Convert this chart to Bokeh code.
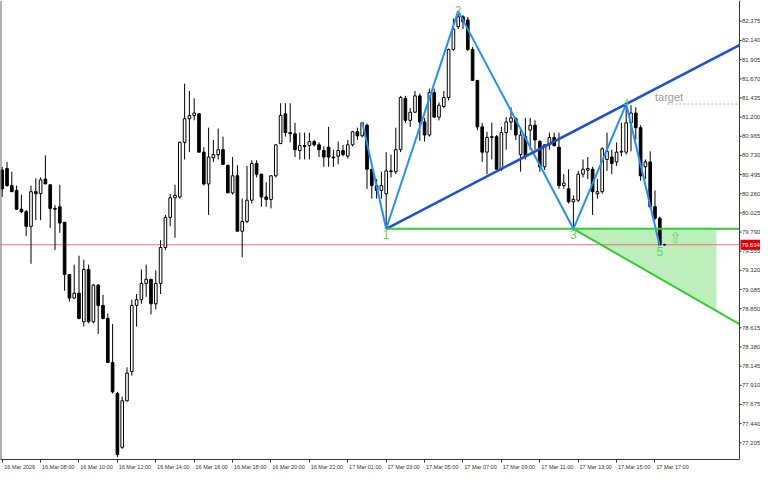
from bokeh.plotting import figure
from bokeh.models import Range1d, FixedTicker, Span
from bokeh.core.properties import value
from bokeh.embed import file_html
from bokeh.resources import INLINE

# ---------------- data (15-minute bars) ----------------
opens = [80.55, 80.57, 80.36, 80.30, 80.07, 80.04, 79.86, 80.285, 80.26, 80.44,
         80.37, 80.08, 80.10, 79.91, 79.27, 78.98, 79.04, 78.69, 79.33, 78.69,
         79.14, 78.89, 78.73, 78.19, 77.81, 77.15, 77.72, 78.08, 78.89, 78.96,
         79.16, 79.21, 78.91, 79.16, 79.60, 79.97, 80.21, 80.22, 80.89, 81.18,
         81.22, 81.24, 80.77, 80.38, 80.70, 80.74, 80.80, 80.61, 80.27, 80.48,
         79.80, 79.92, 80.18, 80.63, 80.50, 80.22, 80.19, 80.48, 80.875, 81.24,
         81.01, 80.995, 80.79, 80.85, 80.85, 80.90, 80.86, 80.79, 80.83, 80.71,
         80.72, 80.79, 80.72, 80.86, 81.02, 80.97, 81.10, 80.56, 80.36, 80.30,
         80.26, 80.54, 80.53, 80.80, 81.43, 81.16, 81.26, 81.46, 81.14, 80.98,
         81.50, 81.20, 81.33, 81.44, 82.03, 82.31, 82.43, 82.39, 82.03, 81.65,
         81.08, 80.77, 80.95, 80.96, 80.56, 81.01, 81.14, 81.18, 80.74, 80.96,
         81.04, 81.10, 80.90, 80.59, 80.86, 80.95, 80.83, 80.36, 80.32, 80.16,
         80.18, 80.50, 80.55, 80.56, 80.26, 80.285, 80.68, 80.71, 80.65, 80.77,
         80.77, 81.13, 81.25, 81.07, 80.59, 80.65, 80.10, 79.96, 79.634]
highs = [80.59, 80.65, 80.53, 80.36, 80.25, 80.06, 80.36, 80.45, 80.46, 80.73,
         80.37, 80.12, 80.37, 79.91, 79.27, 79.39, 79.50, 79.45, 79.39, 79.15,
         79.15, 79.02, 78.79, 78.66, 77.83, 77.77, 78.13, 78.96, 79.03, 79.33,
         79.39, 79.21, 79.32, 79.69, 80.00, 80.26, 80.37, 80.90, 81.61, 81.52,
         81.43, 81.25, 80.83, 81.07, 80.92, 81.06, 80.96, 80.61, 80.71, 80.61,
         80.20, 80.60, 80.67, 80.67, 80.50, 80.40, 80.49, 80.86, 81.37, 81.37,
         81.37, 81.13, 81.01, 81.01, 81.01, 80.92, 80.89, 80.84, 81.08, 80.80,
         80.90, 80.86, 80.92, 81.03, 81.07, 81.14, 81.12, 80.56, 80.44, 80.53,
         80.77, 80.74, 81.07, 81.46, 81.46, 81.31, 81.52, 81.49, 81.19, 81.55,
         81.55, 81.38, 81.52, 82.04, 82.41, 82.50, 82.45, 82.43, 82.06, 81.65,
         81.13, 81.02, 81.13, 80.98, 81.08, 81.20, 81.32, 81.20, 81.04, 81.19,
         81.19, 81.16, 80.92, 80.86, 81.01, 81.01, 81.01, 80.50, 80.56, 80.24,
         80.54, 80.68, 80.71, 80.59, 80.44, 80.83, 81.01, 80.80, 80.89, 81.13,
         81.36, 81.345, 81.32, 81.10, 80.68, 80.78, 80.30, 79.98, 79.645]
lows = [80.22, 80.345, 80.285, 80.06, 80.02, 79.74, 79.40, 79.935, 79.935, 80.38,
        79.84, 79.57, 79.78, 79.07, 78.935, 78.97, 78.72, 78.63, 78.67, 78.67,
        78.54, 78.72, 78.19, 77.81, 77.03, 77.13, 77.71, 78.03, 78.63, 78.91,
        78.995, 78.78, 78.84, 79.03, 79.57, 79.86, 79.72, 80.20, 80.68, 80.77,
        81.16, 80.77, 80.36, 80.00, 80.65, 80.68, 80.62, 80.27, 80.25, 79.80,
        79.48, 79.90, 80.14, 80.46, 80.10, 80.10, 80.08, 80.46, 80.875, 80.96,
        80.89, 80.71, 80.68, 80.68, 80.68, 80.84, 80.71, 80.59, 80.59, 80.59,
        80.62, 80.72, 80.69, 80.84, 80.92, 80.95, 80.32, 80.20, 80.20, 80.20,
        79.83, 80.46, 80.50, 80.77, 81.13, 81.08, 81.25, 80.91, 80.90, 80.96,
        81.19, 81.16, 81.31, 81.405, 82.01, 82.28, 82.28, 82.01, 81.65, 81.04,
        80.65, 80.50, 80.68, 80.56, 80.54, 80.80, 81.04, 80.92, 80.53, 80.68,
        80.80, 80.80, 80.53, 80.55, 80.80, 80.84, 80.32, 80.32, 80.14, 79.83,
        80.16, 80.46, 80.44, 80.00, 80.20, 80.26, 80.54, 80.50, 80.60, 80.72,
        80.74, 80.78, 80.92, 80.42, 80.44, 80.08, 79.935, 79.62, 79.625]
closes = [80.32, 80.36, 80.285, 80.07, 80.04, 79.86, 80.285, 80.26, 80.43, 80.38,
          80.08, 80.07, 79.90, 79.27, 78.98, 79.04, 78.73, 79.33, 78.69, 79.14,
          78.89, 78.73, 78.19, 77.83, 77.06, 77.72, 78.06, 78.89, 78.96, 79.16,
          79.21, 78.91, 79.16, 79.60, 79.97, 80.21, 80.24, 80.89, 81.18, 81.22,
          81.25, 80.77, 80.38, 80.71, 80.74, 80.80, 80.62, 80.27, 80.48, 79.80,
          79.92, 80.18, 80.63, 80.50, 80.22, 80.19, 80.48, 80.86, 81.22, 81.01,
          80.995, 80.80, 80.85, 80.84, 80.90, 80.86, 80.80, 80.71, 80.71, 80.70,
          80.79, 80.74, 80.86, 81.02, 80.97, 81.13, 80.56, 80.36, 80.30, 80.36,
          80.54, 80.53, 80.80, 81.44, 81.16, 81.26, 81.46, 81.14, 80.98, 81.50,
          81.20, 81.345, 81.44, 82.03, 82.28, 82.43, 82.37, 82.03, 81.65, 81.08,
          80.77, 80.95, 80.96, 80.56, 81.01, 81.14, 81.19, 80.98, 80.98, 80.72,
          81.10, 80.92, 80.59, 80.86, 80.95, 80.85, 80.36, 80.39, 80.16, 80.19,
          80.50, 80.56, 80.57, 80.285, 80.285, 80.81, 80.78, 80.63, 80.77, 80.78,
          81.13, 81.25, 81.07, 80.48, 80.65, 80.10, 79.96, 79.634, 79.634]

tick_bars = [0, 8, 16, 24, 32, 40, 48, 56, 64, 72, 80, 88, 96, 104, 112, 120, 128, 136]
tick_labels = ["16 Mar 2026", "16 Mar 08:00", "16 Mar 10:00", "16 Mar 12:00", "16 Mar 14:00",
               "16 Mar 16:00", "16 Mar 18:00", "16 Mar 20:00", "16 Mar 22:00", "17 Mar 01:00",
               "17 Mar 03:00", "17 Mar 05:00", "17 Mar 07:00", "17 Mar 09:00", "17 Mar 11:00",
               "17 Mar 13:00", "17 Mar 15:00", "17 Mar 17:00"]
y_ticks = [77.205, 77.440, 77.675, 77.910, 78.145, 78.380, 78.615, 78.850, 79.085, 79.320,
           79.555, 79.790, 80.025, 80.260, 80.495, 80.730, 80.965, 81.200, 81.435, 81.670,
           81.905, 82.140, 82.375]
y_tick_labels = ["77.205", "77.440", "77.675", "77.910", "78.145", "78.380", "78.615", "78.850",
                 "79.085", "79.320", "79.555", "79.790", "80.025", "80.260", "80.495", "80.730",
                 "80.965", "81.200", "81.435", "81.670", "81.905", "82.140", "82.375"]

current_price = 79.634
current_label = "79.634"
pivot_bars = [75, 80, 95, 119, 130, 137]
pivot_kinds = ["high", "low", "high", "low", "high", "low"]
pivot_names = ["", "1", "2", "3", "4", "5"]
proj_slope = -0.0338        # price per bar of the green projection from point 3
zone_end_bar = 148.8        # right edge of the shaded zone
target_start_bar = 138.6
target_text_bar = 136
arrow_bar = 140.3

# ---------------- layout constants (bars / price units) ----------------
X_START = -0.354
AXIS_X = 153.6              # price scale line position
X_END = 157.98              # right edge of the canvas (price scale area)
Y_MIN, Y_MAX = 77.0, 82.63
TICK_LEN = 0.45
TAG_W = 4.3
TAG_H = 0.062

p = figure(width=760, height=472, x_range=Range1d(X_START, X_END), y_range=Range1d(Y_MIN, Y_MAX),
           output_backend="svg", toolbar_location=None,
           min_border_left=0, min_border_top=0, min_border_right=0, min_border_bottom=9)
p.yaxis.visible = False
p.xgrid.visible = False
p.ygrid.visible = False
p.outline_line_color = None
p.background_fill_color = "white"
p.border_fill_color = "white"

LABEL_SHIFT = 3.65
xa = p.xaxis[0]
xa.bounds = (X_START, AXIS_X)
xa.ticker = FixedTicker(ticks=[t + LABEL_SHIFT for t in tick_bars], minor_ticks=tick_bars)
xa.major_label_overrides = {t + LABEL_SHIFT: lab for t, lab in zip(tick_bars, tick_labels)}
xa.major_tick_line_color = None
xa.major_tick_out = 2
xa.major_tick_in = 0
xa.minor_tick_line_color = "#333333"
xa.minor_tick_out = 3
xa.minor_tick_in = 0
xa.major_label_standoff = 1
xa.axis_line_color = "#333333"
xa.major_label_text_font = "Liberation Sans"
xa.major_label_text_font_size = "5.5px"
xa.major_label_text_color = "#333333"

bars = list(range(len(opens)))

# left border and price-scale line
p.add_layout(Span(location=X_START, dimension="height", line_color="#666666", line_width=2))
p.add_layout(Span(location=AXIS_X, dimension="height", line_color="#333333", line_width=1))

# price scale ticks and labels
p.segment(x0=[AXIS_X] * len(y_ticks), y0=y_ticks, x1=[AXIS_X + TICK_LEN] * len(y_ticks), y1=y_ticks,
          line_color="#333333", line_width=1)
p.text(x=[AXIS_X] * len(y_ticks), y=y_ticks, text=y_tick_labels, x_offset=2.5,
       text_font=value("Liberation Sans"), text_font_size="6px", text_color="#333333",
       text_align="left", text_baseline="middle")

# pivots
piv_prices = [highs[b] if k == "high" else lows[b] for b, k in zip(pivot_bars, pivot_kinds)]
b1, p1 = pivot_bars[1], piv_prices[1]
b3, p3 = pivot_bars[3], piv_prices[3]
b4, p4 = pivot_bars[4], piv_prices[4]

# shaded target zone
zone_bottom = p3 + proj_slope * (zone_end_bar - b3)
p.patch([b3, zone_end_bar, zone_end_bar], [p3, p3, zone_bottom],
        fill_color="#32CD32", fill_alpha=0.32, line_color=None)

# current price line
p.line([X_START, AXIS_X], [current_price, current_price], line_color="#e87070", line_width=1)

# candles
p.segment(x0=bars, y0=lows, x1=bars, y1=highs, line_color="black", line_width=1)
up = [i for i in bars if closes[i] >= opens[i]]
dn = [i for i in bars if closes[i] < opens[i]]
p.vbar(x=up, width=0.55, top=[closes[i] for i in up], bottom=[opens[i] for i in up],
       fill_color="white", line_color="black", line_width=1)
p.vbar(x=dn, width=0.55, top=[opens[i] for i in dn], bottom=[closes[i] for i in dn],
       fill_color="black", line_color="black", line_width=1)

# pattern lines
p.line(pivot_bars, piv_prices, line_color="#1E90FF", line_width=2)
slope14 = (p4 - p1) / (b4 - b1)
p.line([b1, AXIS_X], [p1, p1 + slope14 * (AXIS_X - b1)], line_color="#1F4ED4", line_width=2.5)
p.line([b1, AXIS_X], [p1, p1], line_color="#33CC33", line_width=2)
p.line([b3, AXIS_X], [p3, p3 + proj_slope * (AXIS_X - b3)], line_color="#33CC33", line_width=2)

# target
p.line([target_start_bar, AXIS_X], [p4, p4], line_color="#aaaaaa", line_width=1, line_dash="2 2")
p.text(x=[target_text_bar], y=[p4], text=["target"], text_color="#999999",
       text_font=value("Liberation Sans"), text_font_size="11px",
       text_align="left", text_baseline="bottom", y_offset=-1)

# pivot labels
lo_idx = [i for i in range(1, len(pivot_bars)) if pivot_kinds[i] == "low"]
hi_idx = [i for i in range(1, len(pivot_bars)) if pivot_kinds[i] == "high"]
p.text(x=[pivot_bars[i] for i in lo_idx], y=[piv_prices[i] for i in lo_idx],
       text=[pivot_names[i] for i in lo_idx], text_color="#5fd35f",
       text_font=value("Liberation Sans"), text_font_size="12px",
       text_align="center", text_baseline="top", y_offset=1)
p.text(x=[pivot_bars[i] for i in hi_idx], y=[piv_prices[i] for i in hi_idx],
       text=[pivot_names[i] for i in hi_idx], text_color="#5fd35f",
       text_font=value("Liberation Sans"), text_font_size="10.5px",
       text_align="center", text_baseline="alphabetic", y_offset=-1)

# arrow
p.text(x=[arrow_bar], y=[p1], text=["\u21e7"], text_color="#6fd36f",
       text_font=value("DejaVu Sans"), text_font_size="15px",
       text_align="center", text_baseline="top", y_offset=0)

# current price tag on the price scale
p.quad(left=[AXIS_X + 0.2], right=[AXIS_X + TAG_W], top=[current_price + TAG_H],
       bottom=[current_price - TAG_H], fill_color="#e00000", line_color=None)
p.text(x=[AXIS_X], y=[current_price], text=[current_label], x_offset=2,
       text_font=value("Liberation Sans"), text_font_size="6px", text_color="white",
       text_align="left", text_baseline="middle")

open("out.html", "w").write(file_html(p, INLINE))
